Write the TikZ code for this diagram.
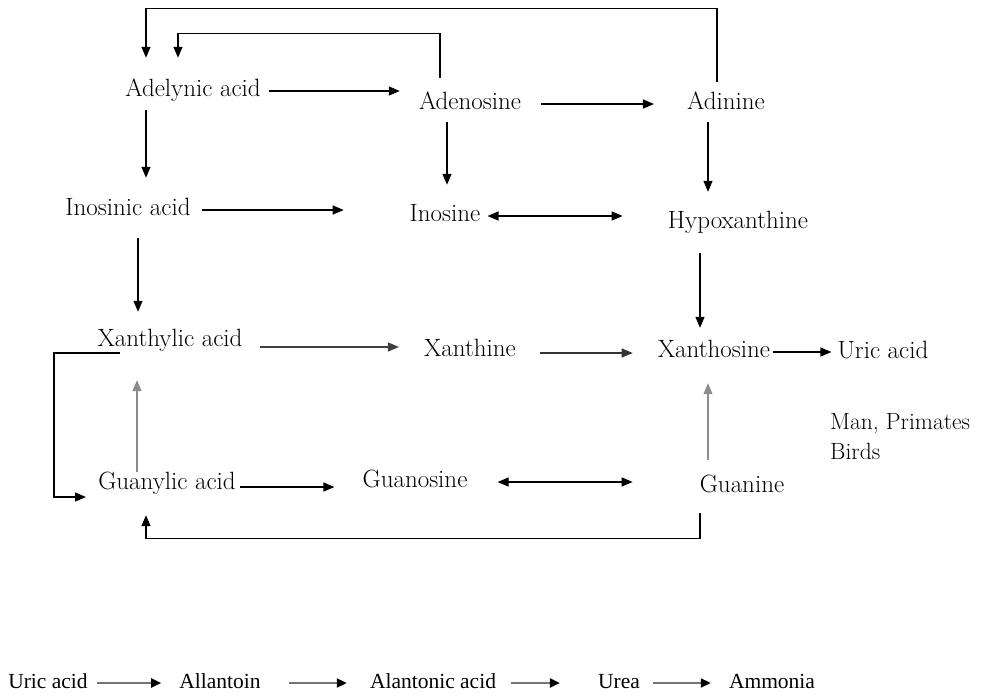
\documentclass[tikz,border=0pt]{standalone}
\usepackage{fontspec}
\newfontfamily\rowfont{Liberation Serif}
\usetikzlibrary{arrows.meta,calc}
\begin{document}
\begin{tikzpicture}[x=1pt,y=-1pt,
  lbl/.style={inner sep=0pt, text height=16pt, text depth=6pt,
              font=\fontsize{25}{30}\selectfont},
  rowlbl/.style={inner sep=0pt, text height=15pt, text depth=5pt,
              font=\rowfont\fontsize{21.5}{26}\selectfont},
  arr/.style={line width=1.3pt, -{Triangle[length=11pt,width=9pt]}},
  dbl/.style={line width=1.3pt, {Triangle[length=11pt,width=9pt]}-{Triangle[length=11pt,width=9pt]}},
  grayarr/.style={arr, draw=black!45},
  rowarr/.style={line width=2pt, draw=black!55, -{Triangle[length=10pt,width=9pt,color=black]}}]
\useasboundingbox[fill=white] (0,0) rectangle (983,697);

% compounds
\node[lbl] (adel) at (193,91) {Adelynic acid};
\node[lbl] (aden) at (470,104) {Adenosine};
\node[lbl] (adin) at (726,104) {Adinine};
\node[lbl] (inosinic) at (128,210) {Inosinic acid};
\node[lbl] (inosine) at (445,216) {Inosine};
\node[lbl] (hypo) at (738,223) {Hypoxanthine};
\node[lbl] (xanthylic) at (170,341) {Xanthylic acid};
\node[lbl] (xanthine) at (470,351) {Xanthine};
\node[lbl] (xanthosine) at (714,352) {Xanthosine};
\node[lbl] (uric) at (883,353) {Uric acid};
\node[inner sep=0pt, anchor=west, align=left, font=\fontsize{23.5}{30}\selectfont]
  (species) at (830,437) {Man, Primates\\Birds};
\node[lbl] (guanylic) at (167,484) {Guanylic acid};
\node[lbl] (guanosine) at (415,482) {Guanosine};
\node[lbl] (guanine) at (742,487) {Guanine};

% top row
\draw[arr, shorten <=8pt, shorten >=19pt] (adel.east) -- (adel.east -| aden.west);
\draw[arr, shorten <=20pt, shorten >=33pt] (aden.east) -- (aden.east -| adin.west);

% feedback loops to adelynic acid
\draw[arr] ([xshift=-9pt,yshift=11pt]adin.north) -- ++(0,-73)
  -| ([xshift=-47pt,yshift=22pt]adel.north);
\draw[arr] ([xshift=-30pt,yshift=15pt]aden.north) -- ++(0,-44)
  -| ([xshift=-15pt,yshift=22pt]adel.north);

% downward steps
\draw[arr, shorten <=8pt, shorten >=21pt] ([xshift=-47pt]adel.south) -- ([xshift=-47pt]adel.south |- inosinic.north);
\draw[arr, shorten <=7pt, shorten >=20pt] ([xshift=-23pt]aden.south) -- ([xshift=-23pt]aden.south |- inosine.north);
\draw[arr, shorten <=7pt, shorten >=20pt] ([xshift=-18pt]adin.south) -- ([xshift=-18pt]adin.south |- hypo.north);

% second row
\draw[arr, shorten <=11pt] (inosinic.east) -- ++(153,0);
\draw[dbl, shorten <=7pt, shorten >=45pt] (inosine.east) -- (inosine.east -| hypo.west);
\draw[arr, shorten <=17pt, shorten >=18pt] ([xshift=10pt]inosinic.south) -- ([xshift=10pt]inosinic.south |- xanthylic.north);
\draw[arr, shorten <=19pt, shorten >=13pt] ([xshift=-38pt]hypo.south) -- ([xshift=-38pt]hypo.south |- xanthosine.north);

% third row
\draw[arr, draw=black!75, shorten <=17pt, shorten >=25pt] ([yshift=-6pt]xanthylic.east) -- ([yshift=-6pt]xanthylic.east -| xanthine.west);
\draw[arr, draw=black!80, shorten <=24pt, shorten >=25pt] ([yshift=-2pt]xanthine.east) -- ([yshift=-2pt]xanthine.east -| xanthosine.west);
\draw[arr, shorten <=3pt, shorten >=6pt] (xanthosine.east) -- (xanthosine.east -| uric.west);

% bracket from xanthylic acid back to guanylic acid
\draw[arr] ([xshift=-50pt,yshift=-12pt]xanthylic.center) -- ++(-66,0)
  |- ([xshift=-81pt,yshift=-13pt]guanylic.center);

% upward steps
\draw[grayarr, shorten <=1pt, shorten >=28pt] ([xshift=-30pt]guanylic.north) -- ([xshift=-30pt]guanylic.north |- xanthylic.south);
\draw[grayarr, shorten <=16pt, shorten >=20pt] ([xshift=-34pt]guanine.north) -- ([xshift=-34pt]guanine.north |- xanthosine.south);

% fourth row
\draw[arr, shorten <=4pt, shorten >=28pt] ([yshift=-3pt]guanylic.east) -- ([yshift=-3pt]guanylic.east -| guanosine.west);
\draw[dbl, shorten <=30pt, shorten >=67pt] (guanosine.east) -- (guanosine.east -| guanine.west);

% loop from guanine back to guanylic acid
\draw[arr] ([xshift=-42pt,yshift=-15pt]guanine.south) -- ++(0,25)
  -| ([xshift=-21pt,yshift=-20pt]guanylic.south);

% degradation of uric acid
\node[rowlbl] (r1) at (48,683) {Uric acid};
\node[rowlbl] (r2) at (220,683) {Allantoin};
\node[rowlbl] (r3) at (433,683) {Alantonic acid};
\node[rowlbl] (r4) at (619,683) {Urea};
\node[rowlbl] (r5) at (772,683) {Ammonia};
\draw[rowarr, shorten <=9pt, shorten >=18pt] (r1.east) -- (r1.east -| r2.west);
\draw[rowarr, shorten <=28pt, shorten >=23pt] (r2.east) -- (r2.east -| r3.west);
\draw[rowarr, shorten <=15pt, shorten >=38pt] (r3.east) -- (r3.east -| r4.west);
\draw[rowarr, shorten <=13pt, shorten >=18pt] (r4.east) -- (r4.east -| r5.west);
\end{tikzpicture}
\end{document}
